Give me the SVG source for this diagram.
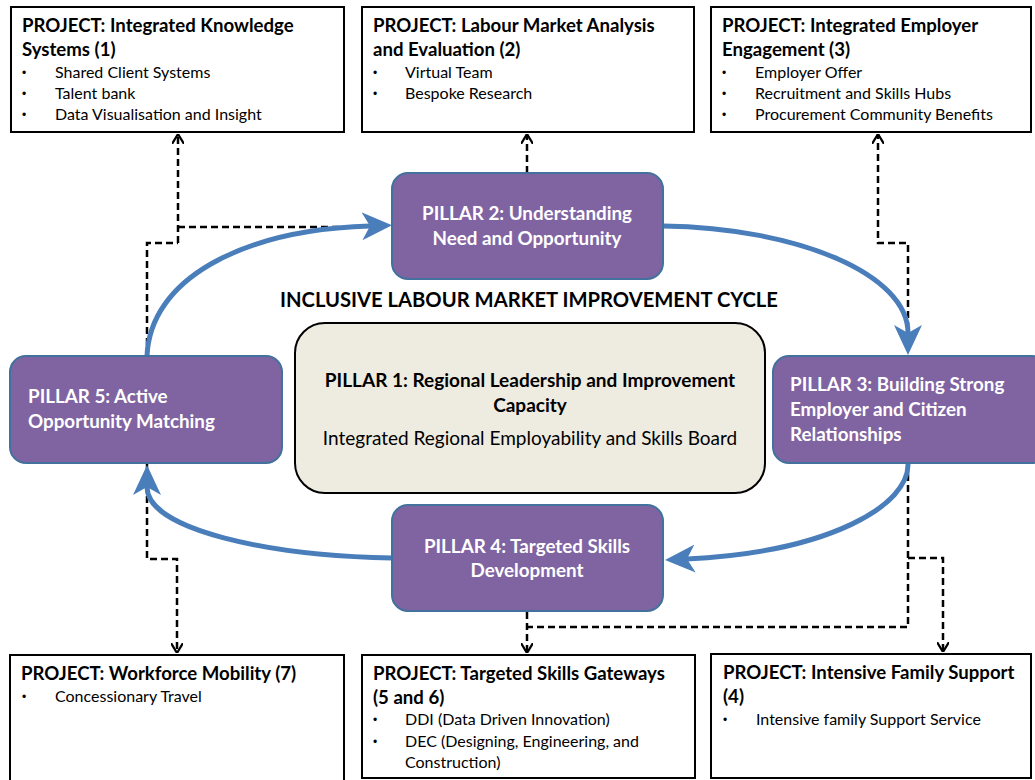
<svg xmlns="http://www.w3.org/2000/svg" width="1035" height="780" viewBox="0 0 1035 780">
<style>
.proj{fill:#fff;stroke:#000;stroke-width:2}
.pil{fill:#8064A2;stroke:#41719C;stroke-width:2}
.t{font-family:Lato,"Liberation Sans",sans-serif}
.h{font-size:18.6px;font-weight:bold;fill:#000}
.b{font-size:16px;fill:#000}
.d{font-size:12px;fill:#000;font-family:"Liberation Sans",sans-serif}
.pt{font-size:18.8px;font-weight:bold;fill:#fff}
.dash{fill:none;stroke:#000;stroke-width:2.5;stroke-dasharray:7,4}
.blue{fill:none;stroke:#4A7EBB;stroke-width:5}
</style>
<defs>
<marker id="open" viewBox="0 0 10 12" refX="10" refY="6" markerWidth="10" markerHeight="12" markerUnits="userSpaceOnUse" orient="auto">
<path d="M0,0 L10,6 L0,12" fill="none" stroke="#000" stroke-width="2.2"/>
</marker>
<marker id="stealth" viewBox="0 0 30 28" refX="8" refY="14" markerWidth="30" markerHeight="28" markerUnits="userSpaceOnUse" orient="auto">
<path d="M0,0 L30,14 L0,28 L8,14 z" fill="#4A7EBB"/>
</marker>
</defs>
<rect width="1035" height="780" fill="#fff"/>
<g id="connectors">
<path class="dash" d="M178,243 V134" marker-end="url(#open)"/>
<path class="dash" d="M178,227 H364"/>
<path class="dash" d="M147,356 V243 H178"/>
<path class="dash" d="M527,173 V134" marker-end="url(#open)"/>
<path class="dash" d="M908,340 V243 H878 V134" marker-end="url(#open)"/>
<path class="dash" d="M908,463 V627 H527"/>
<path class="dash" d="M527,612 V653" marker-end="url(#open)"/>
<path class="dash" d="M908,558 H943 V652" marker-end="url(#open)"/>
<path class="dash" d="M147,463 V559 H177 V653" marker-end="url(#open)"/>
<path class="blue" d="M147,356 C150,280 240,230 370,226" marker-end="url(#stealth)"/>
<path class="blue" d="M663,226 C800,228 908,275 908,333" marker-end="url(#stealth)"/>
<path class="blue" d="M908,463 C910,505 830,552 687,559" marker-end="url(#stealth)"/>
<path class="blue" d="M392,558 C270,556 147,530 147,487" marker-end="url(#stealth)"/>
</g>
<g id="project1">
<rect class="proj" x="11" y="7" width="333" height="125"/>
<text class="t h" x="22" y="32">PROJECT: Integrated Knowledge</text>
<text class="t h" x="22" y="56">Systems (1)</text>
<text class="d" x="22" y="77">•</text><text class="t b" x="55" y="78">Shared Client Systems</text>
<text class="d" x="22" y="98">•</text><text class="t b" x="55" y="99">Talent bank</text>
<text class="d" x="22" y="119">•</text><text class="t b" x="55" y="120">Data Visualisation and Insight</text>
</g>
<g id="project2">
<rect class="proj" x="362" y="7" width="332" height="125"/>
<text class="t h" x="373" y="32">PROJECT: Labour Market Analysis</text>
<text class="t h" x="373" y="56">and Evaluation (2)</text>
<text class="d" x="373" y="77">•</text><text class="t b" x="405" y="78">Virtual Team</text>
<text class="d" x="373" y="98">•</text><text class="t b" x="405" y="99">Bespoke Research</text>
</g>
<g id="project3">
<rect class="proj" x="711" y="7" width="320" height="125"/>
<text class="t h" x="722" y="32">PROJECT: Integrated Employer</text>
<text class="t h" x="722" y="56">Engagement (3)</text>
<text class="d" x="722" y="77">•</text><text class="t b" x="755" y="78">Employer Offer</text>
<text class="d" x="722" y="98">•</text><text class="t b" x="755" y="99">Recruitment and Skills Hubs</text>
<text class="d" x="722" y="119">•</text><text class="t b" x="755" y="120">Procurement Community Benefits</text>
</g>
<g id="pillar2">
<rect class="pil" x="392" y="173" width="271" height="106" rx="16"/>
<text class="t pt" x="527" y="220" text-anchor="middle">PILLAR 2: Understanding</text>
<text class="t pt" x="527" y="245" text-anchor="middle">Need and Opportunity</text>
</g>
<g id="title">
<text class="t" x="529" y="307" text-anchor="middle" font-size="20.2" font-weight="bold">INCLUSIVE LABOUR MARKET IMPROVEMENT CYCLE</text>
</g>
<g id="pillar1">
<rect x="295" y="323" width="470" height="170" rx="30" fill="#EEECE1" stroke="#000" stroke-width="2"/>
<text class="t" x="530" y="387" text-anchor="middle" font-size="19" font-weight="bold">PILLAR 1: Regional Leadership and Improvement</text>
<text class="t" x="530" y="412" text-anchor="middle" font-size="19" font-weight="bold">Capacity</text>
<text class="t" x="530" y="445" text-anchor="middle" font-size="19">Integrated Regional Employability and Skills Board</text>
</g>
<g id="pillar5">
<rect class="pil" x="10" y="356" width="272" height="107" rx="16"/>
<text class="t pt" x="28" y="403">PILLAR 5: Active</text>
<text class="t pt" x="28" y="428">Opportunity Matching</text>
</g>
<g id="pillar3">
<rect class="pil" x="773" y="356" width="275" height="107" rx="16"/>
<text class="t pt" x="790" y="391">PILLAR 3: Building Strong</text>
<text class="t pt" x="790" y="416">Employer and Citizen</text>
<text class="t pt" x="790" y="441">Relationships</text>
</g>
<g id="pillar4">
<rect class="pil" x="392" y="505" width="271" height="106" rx="16"/>
<text class="t pt" x="527" y="553" text-anchor="middle">PILLAR 4: Targeted Skills</text>
<text class="t pt" x="527" y="577" text-anchor="middle">Development</text>
</g>
<g id="project7">
<rect class="proj" x="10" y="655" width="334" height="130"/>
<text class="t h" x="21" y="680">PROJECT: Workforce Mobility (7)</text>
<text class="d" x="22" y="701">•</text><text class="t b" x="55" y="702">Concessionary Travel</text>
</g>
<g id="project56">
<rect class="proj" x="362" y="655" width="333" height="123"/>
<text class="t h" x="373" y="680">PROJECT: Targeted Skills Gateways</text>
<text class="t h" x="373" y="704">(5 and 6)</text>
<text class="d" x="373" y="724">•</text><text class="t b" x="405" y="725">DDI (Data Driven Innovation)</text>
<text class="d" x="373" y="746">•</text><text class="t b" x="405" y="747">DEC (Designing, Engineering, and</text>
<text class="t b" x="405" y="768">Construction)</text>
</g>
<g id="project4">
<rect class="proj" x="711" y="654" width="320" height="124"/>
<text class="t h" x="723" y="679">PROJECT: Intensive Family Support</text>
<text class="t h" x="723" y="703">(4)</text>
<text class="d" x="723" y="724">•</text><text class="t b" x="756" y="725">Intensive family Support Service</text>
</g>
</svg>
